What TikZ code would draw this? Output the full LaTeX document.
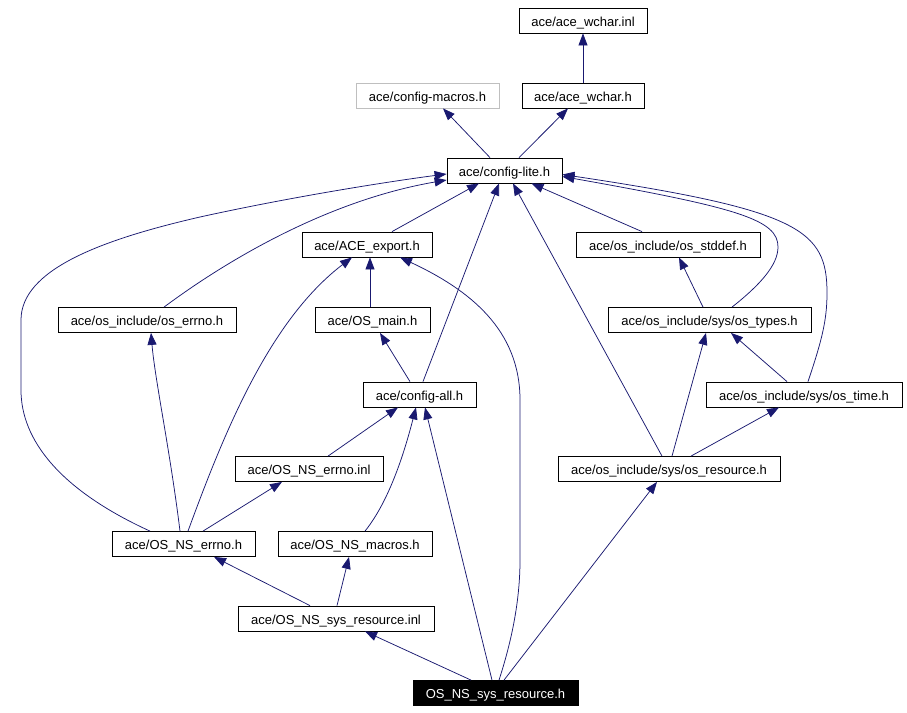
\documentclass[tikz,border=0pt]{standalone}
\usepackage{fontspec}
\setmainfont{Liberation Sans}
\usetikzlibrary{arrows.meta}
\definecolor{edgeblue}{HTML}{191970}
\definecolor{cfggray}{HTML}{BFBFBF}
\begin{document}
\begin{tikzpicture}[x=1pt,y=-1pt,
  box/.style={draw=black, line width=0.8pt, fill=white, minimum height=25pt, inner sep=0pt, text height=11pt, text depth=0pt, font=\fontsize{13}{15}\selectfont},
  graybox/.style={box, draw=cfggray},
  rootbox/.style={box, fill=black, text=white},
  edge/.style={draw=edgeblue, line width=0.75pt, -{Triangle[length=12pt,width=9pt]}}
]
\useasboundingbox (0,0) rectangle (907,712);

\node[box, minimum width=128pt] (wcharinl) at (583,20.5) {ace/ace\_wchar.inl};
\node[graybox, minimum width=143pt] (macros) at (427.5,95.5) {ace/config-macros.h};
\node[box, minimum width=122pt] (wcharh) at (583,95.5) {ace/ace\_wchar.h};
\node[box, minimum width=115pt] (lite) at (504.5,170.5) {ace/config-lite.h};
\node[box, minimum width=130pt] (export) at (367,244.5) {ace/ACE\_export.h};
\node[box, minimum width=184pt] (stddef) at (668,244.5) {ace/os\_include/os\_stddef.h};
\node[box, minimum width=178pt] (oserrno) at (147,320) {ace/os\_include/os\_errno.h};
\node[box, minimum width=115pt] (osmain) at (372.5,320) {ace/OS\_main.h};
\node[box, minimum width=203pt] (types) at (709.5,320) {ace/os\_include/sys/os\_types.h};
\node[box, minimum width=113pt] (all) at (419.5,394.5) {ace/config-all.h};
\node[box, minimum width=196pt] (time) at (804,394.5) {ace/os\_include/sys/os\_time.h};
\node[box, minimum width=148pt] (errinl) at (309,469) {ace/OS\_NS\_errno.inl};
\node[box, minimum width=222pt] (resource) at (669,469) {ace/os\_include/sys/os\_resource.h};
\node[box, minimum width=143pt] (errh) at (183.5,544) {ace/OS\_NS\_errno.h};
\node[box, minimum width=154pt] (nsmacros) at (355,544) {ace/OS\_NS\_macros.h};
\node[box, minimum width=196pt] (sysinl) at (336,618.5) {ace/OS\_NS\_sys\_resource.inl};
\node[rootbox, minimum width=165pt] (main) at (495.5,693) {OS\_NS\_sys\_resource.h};

\draw[edge] (wcharh) -- (wcharinl);
\draw[edge] ([xshift=-14.5pt]lite.north) -- ([xshift=15.5pt]macros.south);
\draw[edge] ([xshift=14.5pt]lite.north) -- ([xshift=-15pt]wcharh.south);
\draw[edge] ([xshift=25pt]export.north) -- ([xshift=-25.5pt]lite.south);
\draw[edge] ([xshift=17pt]oserrno.north) .. controls (230,258) and (330,200) .. ([yshift=-9.5pt]lite.west);
\draw[edge] ([xshift=-33.5pt]errh.north) .. controls (60,490) and (21,440) .. (21,390) -- (21,320) .. controls (21,270) and (100,240) .. (200,217) .. controls (300,195) and (400,180) .. ([yshift=-3.5pt]lite.west);
\draw[edge] ([xshift=-2.5pt]osmain.north) -- ([xshift=3pt]export.south);
\draw[edge] ([xshift=4.5pt]errh.north) .. controls (225,430) and (270,320) .. ([xshift=-15pt]export.south);
\draw[edge] ([xshift=3.5pt]main.north) .. controls (512,640) and (520,600) .. (520,560) -- (520,400) .. controls (520,330) and (470,290) .. ([xshift=33pt]export.south);
\draw[edge] ([xshift=3.5pt]all.north) -- ([xshift=-5.5pt]lite.south);
\draw[edge] ([xshift=-9.5pt]all.north) -- ([xshift=7.5pt]osmain.south);
\draw[edge] ([xshift=-7pt]resource.north) -- ([xshift=8.5pt]lite.south);
\draw[edge] ([xshift=-26pt]stddef.north) -- ([xshift=27pt]lite.south);
\draw[edge] ([xshift=22.5pt]types.north) .. controls (760,285) and (778,265) .. (778,247) .. controls (778,220) and (740,208) .. ([yshift=-6pt]lite.east);
\draw[edge] ([xshift=4pt]time.north) .. controls (822,340) and (827,320) .. (827,293) .. controls (827,230) and (800,210) .. ([yshift=-4pt]lite.east);
\draw[edge] ([xshift=-6.5pt]types.north) -- ([xshift=11pt]stddef.south);
\draw[edge] ([xshift=-17pt]time.north) -- ([xshift=21.5pt]types.south);
\draw[edge] ([xshift=3pt]resource.north) -- ([xshift=-3.5pt]types.south);
\draw[edge] ([xshift=22pt]resource.north) -- ([xshift=-25pt]time.south);
\draw[edge] ([xshift=19pt]errinl.north) -- ([xshift=-21.5pt]all.south);
\draw[edge] ([xshift=10pt]nsmacros.north) .. controls (390,500) and (405,450) .. ([xshift=-3.5pt]all.south);
\draw[edge] ([xshift=-3.5pt]errh.north) .. controls (170,450) and (155,380) .. ([xshift=4pt]oserrno.south);
\draw[edge] ([xshift=19.5pt]errh.north) -- ([xshift=-27pt]errinl.south);
\draw[edge] ([xshift=-26pt]sysinl.north) -- ([xshift=30.5pt]errh.south);
\draw[edge] ([xshift=1pt]sysinl.north) -- ([xshift=-6pt]nsmacros.south);
\draw[edge] ([xshift=-24.5pt]main.north) -- ([xshift=29pt]sysinl.south);
\draw[edge] ([xshift=-3.5pt]main.north) -- ([xshift=5.5pt]all.south);
\draw[edge] ([xshift=8.5pt]main.north) -- ([xshift=-12pt]resource.south);
\end{tikzpicture}
\end{document}
